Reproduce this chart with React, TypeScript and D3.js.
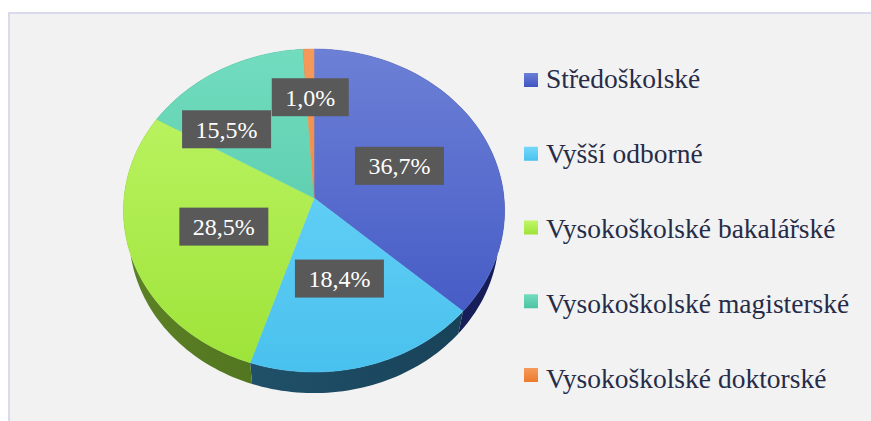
import React from "react";
import * as d3 from "d3";

const categories = [
  "Středoškolské",
  "Vyšší odborné",
  "Vysokoškolské bakalářské",
  "Vysokoškolské magisterské",
  "Vysokoškolské doktorské",
];
const values = [36.7, 18.4, 28.5, 15.5, 1.0];
const labels = ["36,7%", "18,4%", "28,5%", "15,5%", "1,0%"];

const topLight = ["#6c80d6", "#74d9fb", "#c0f669", "#72dcbf", "#f59a5c"];
const topDark = ["#3e54c2", "#49c1ee", "#9de338", "#4cc3a2", "#ec7a2c"];
const sideLight = ["#26317a", "#245a74", "#5c8226", "#2f7a66", "#9a4a14"];
const sideDark = ["#151c55", "#173f55", "#3f5c14", "#1e5a4a", "#7a3a10"];

// label placement (fraction of radius, angle shift in degrees) – layout only
const labelRadius = [0.5, 0.5, 0.5, 0.65, 0.66];
const labelShift = [0, 0, 0, -15.6, 0];

const W = 871;
const H = 421;
const cx = 314;
const cy = 198;
const K = 190;
const sinP = 0.845;
const cosP = Math.sqrt(1 - sinP * sinP);
const D = 6.91;
const TH = 0.25;

const SERIF =
  "'Liberation Serif', 'Times New Roman', Tinos, 'DejaVu Serif', 'Noto Serif', FreeSerif, Times, Georgia, serif";

function project(u: number, v: number, w: number): [number, number] {
  const Y = v * sinP - w * cosP;
  const Z = v * cosP + w * sinP;
  const s = D / (D - Z);
  return [cx + K * u * s, cy + K * Y * s];
}
function polar(theta: number, r: number, w: number) {
  return project(r * Math.sin(theta), -r * Math.cos(theta), w);
}

function measure(text: string, font: string) {
  if (typeof document === "undefined") return text.length * 12;
  const c = document.createElement("canvas").getContext("2d");
  if (!c) return text.length * 12;
  c.font = font;
  return c.measureText(text).width;
}

export default function App() {
  const arcs = d3
    .pie<number>()
    .sort(null)
    .startAngle(0)
    .endAngle(Math.PI * 2)(values);

  const line = d3.line<[number, number]>();
  const N = 120;

  const tops = arcs.map((a) => {
    const pts: [number, number][] = [project(0, 0, 0)];
    const n = Math.max(4, Math.ceil((N * (a.endAngle - a.startAngle)) / Math.PI));
    for (let i = 0; i <= n; i++) {
      const t = a.startAngle + ((a.endAngle - a.startAngle) * i) / n;
      pts.push(polar(t, 1, 0));
    }
    return line(pts) + "Z";
  });

  const sides = arcs.map((a) => {
    const n = Math.max(4, Math.ceil((N * (a.endAngle - a.startAngle)) / Math.PI));
    const topPts: [number, number][] = [];
    const botPts: [number, number][] = [];
    for (let i = 0; i <= n; i++) {
      const t = a.startAngle + ((a.endAngle - a.startAngle) * i) / n;
      topPts.push(polar(t, 1, 0));
      botPts.push(polar(t, 1, -TH));
    }
    return line([...topPts, ...botPts.reverse()]) + "Z";
  });

  const labelFont = "24px " + SERIF;
  const labelPos = arcs.map((a, i) => {
    const mid = (a.startAngle + a.endAngle) / 2 + (labelShift[i] * Math.PI) / 180;
    return polar(mid, labelRadius[i], 0);
  });

  const topY = project(0, -1, 0)[1];
  const botY = project(0, 1, 0)[1];

  return (
    <svg
      width={W}
      height={H}
      style={{ position: "absolute", left: 0, top: 0, display: "block" }}
    >
      <defs>
        {arcs.map((_, i) => (
          <linearGradient
            key={"tg" + i}
            id={"tg" + i}
            gradientUnits="userSpaceOnUse"
            x1={0}
            y1={topY}
            x2={0}
            y2={botY}
          >
            <stop offset="0%" stopColor={topLight[i]} />
            <stop offset="100%" stopColor={topDark[i]} />
          </linearGradient>
        ))}
        {arcs.map((_, i) => (
          <linearGradient
            key={"sg" + i}
            id={"sg" + i}
            gradientUnits="userSpaceOnUse"
            x1={cx - K}
            y1={0}
            x2={cx + K}
            y2={0}
          >
            <stop offset="0%" stopColor={sideLight[i]} />
            <stop offset="100%" stopColor={sideDark[i]} />
          </linearGradient>
        ))}
        {categories.map((_, i) => (
          <linearGradient key={"lg" + i} id={"lg" + i} x1="0" y1="0" x2="0" y2="1">
            <stop offset="0%" stopColor={topLight[i]} />
            <stop offset="100%" stopColor={topDark[i]} />
          </linearGradient>
        ))}
      </defs>
      <rect x={0} y={0} width={W} height={H} fill="#ffffff" />
      <rect
        x={9}
        y={13}
        width={W + 20}
        height={H + 20}
        fill="#f2f2f2"
        stroke="#d9daee"
        strokeWidth={2}
      />
      <g>
        {sides.map((d, i) => (
          <path key={"s" + i} d={d} fill={`url(#sg${i})`} />
        ))}
        {tops.map((d, i) => (
          <path
            key={"t" + i}
            d={d}
            fill={`url(#tg${i})`}
            stroke={`url(#tg${i})`}
            strokeWidth={0.5}
          />
        ))}
      </g>
      <g>
        {labels.map((t, i) => {
          const w = measure(t, labelFont) + 27;
          const [x, y] = labelPos[i];
          return (
            <g key={"l" + i} transform={`translate(${x},${y})`}>
              <rect x={-w / 2} y={-19} width={w} height={38} fill="#595959" />
              <text
                x={0}
                y={8.5}
                textAnchor="middle"
                style={{ fontFamily: SERIF, fontSize: "24px" }}
                fill="#ffffff"
              >
                {t}
              </text>
            </g>
          );
        })}
      </g>
      <g>
        {categories.map((c, i) => (
          <g key={"lgd" + i}>
            <rect
              x={524}
              y={73 + i * 73.75}
              width={14}
              height={14}
              fill={`url(#lg${i})`}
            />
            <text
              x={546}
              y={88.3 + i * 75}
              style={{ fontFamily: SERIF, fontSize: "27.5px" }}
              fill="#262c48"
            >
              {c}
            </text>
          </g>
        ))}
      </g>
    </svg>
  );
}
